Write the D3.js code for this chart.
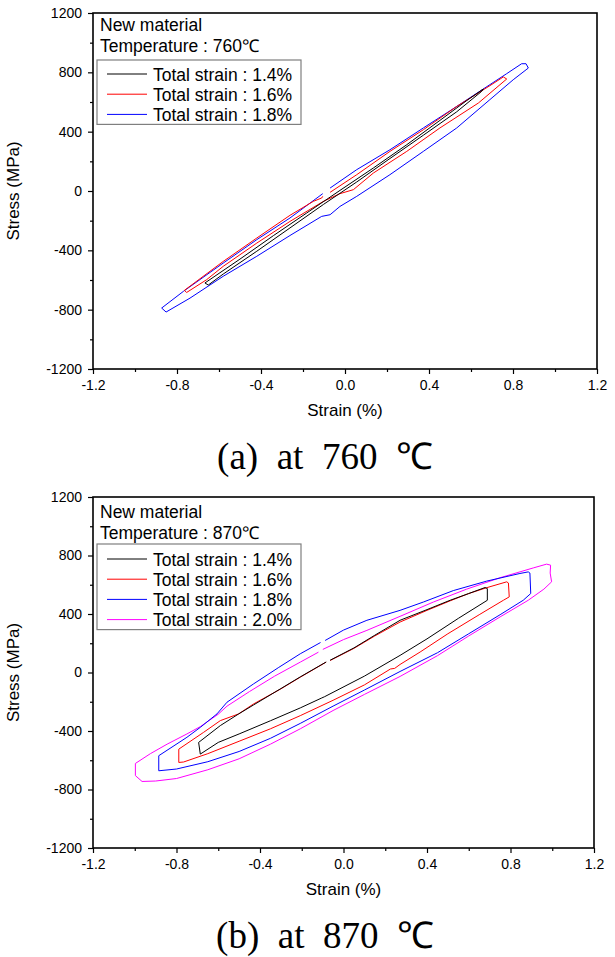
<!DOCTYPE html>
<html>
<head>
<meta charset="utf-8">
<script src="https://cdn.jsdelivr.net/npm/d3@7"></script>
<style>
  body { margin: 0; background: #fff; }
  text { font-family: "Liberation Sans", Arial, sans-serif; fill: #000; }
  .caption { font-family: "Liberation Serif", "Times New Roman", serif; white-space: pre; }
</style>
</head>
<body>
<div id="chart"></div>
<script>
// axis ticks
const xMajor = [-1.2, -0.8, -0.4, 0, 0.4, 0.8, 1.2];
const xMinor = [-1.0, -0.6, -0.2, 0.2, 0.6, 1.0];
const yMajor = [-1200, -800, -400, 0, 400, 800, 1200];
const yMinor = [-1000, -600, -200, 200, 600, 1000];

const labels760 = ["Total strain : 1.4%", "Total strain : 1.6%", "Total strain : 1.8%"];
const labels870 = ["Total strain : 1.4%", "Total strain : 1.6%", "Total strain : 1.8%", "Total strain : 2.0%"];
const lineColors = ["#000000", "#ff0000", "#0000ff", "#ff00ff"];

const loop760_14 = [[-0.667,-620],[-0.500,-459],[-0.341,-301],[-0.182,-148],[-0.024,4],[0.135,155],[0.294,312],[0.452,476],[0.579,609],[0.659,688],[0.651,672],
  [0.532,534],[0.373,376],[0.214,219],[0.056,61],[-0.103,-91],[-0.262,-249],[-0.420,-406],[-0.580,-560],[-0.651,-634],[-0.667,-620]];
const loop760_16 = [[-0.071,-9],[0.056,110],[0.214,267],[0.373,413],[0.532,570],[0.690,710],[0.754,769],[0.770,755],
  [0.635,593],[0.452,425],[0.294,267],[0.135,121],[0.040,9],[-0.024,-18],[-0.103,-70],[-0.262,-205],[-0.420,-351],[-0.580,-508],[-0.659,-598],[-0.754,-684],[-0.765,-670],
  [-0.580,-475],[-0.420,-317],[-0.262,-164],[-0.151,-70],[-0.111,-47],[-0.106,-36]];
const loop760_18 = [[-0.071,20],[0.056,144],[0.214,278],[0.373,425],[0.532,570],[0.690,717],[0.770,791],[0.841,858],[0.862,858],[0.873,829],
  [0.801,750],[0.690,616],[0.532,425],[0.373,267],[0.214,110],[0.056,-36],[-0.024,-104],[-0.071,-160],[-0.111,-171],[-0.262,-300],[-0.420,-440],[-0.580,-575],[-0.738,-722],[-0.852,-816],[-0.873,-789],
  [-0.770,-677],[-0.580,-486],[-0.420,-328],[-0.262,-182],[-0.106,-18]];

// 870 C
const loop870_14 = [[-0.064,84],[0.05,168],[0.15,255],[0.271,357],[0.4,430],[0.511,494],[0.6,540],[0.678,581],[0.689,574],[0.689,494],
  [0.55,370],[0.4,230],[0.271,117],[0.1,-25],[-0.09,-165],[-0.104,-174],[-0.207,-242],[-0.35,-330],[-0.5,-420],[-0.6,-478],[-0.686,-558],[-0.694,-478],
  [-0.590,-363],[-0.502,-283],[-0.431,-222],[-0.3,-110],[-0.207,-30],[-0.083,72]];
const loop870_16 = [[-0.064,82],[0.05,165],[0.15,250],[0.271,345],[0.4,425],[0.511,490],[0.6,540],[0.686,580],[0.782,620],[0.790,612],[0.794,517],
  [0.766,494],[0.65,395],[0.5,265],[0.367,140],[0.271,55],[0.245,28],[0.225,24],[0.1,-85],[-0.05,-190],[-0.207,-295],[-0.35,-385],[-0.5,-470],[-0.65,-555],[-0.766,-612],[-0.789,-615],[-0.789,-524],
  [-0.670,-409],[-0.590,-329],[-0.502,-283],[-0.431,-215],[-0.3,-112],[-0.207,-32],[-0.083,71]];
const loop870_18 = [[-0.088,219],[0.0,290],[0.112,357],[0.271,425],[0.383,482],[0.526,560],[0.686,625],[0.845,677],[0.885,688],[0.893,680],[0.897,540],
  [0.861,494],[0.75,395],[0.6,265],[0.45,135],[0.271,7],[0.1,-120],[-0.05,-230],[-0.207,-348],[-0.35,-450],[-0.5,-540],[-0.65,-610],[-0.8,-660],[-0.885,-672],[-0.885,-569],
  [-0.75,-443],[-0.686,-375],[-0.606,-283],[-0.558,-203],[-0.431,-78],[-0.31,35],[-0.207,128],[-0.11,205]];
const loop870_20 = [[-0.099,158],[0.0,225],[0.112,288],[0.271,384],[0.431,482],[0.59,570],[0.75,648],[0.909,715],[0.973,741],[0.992,734],[0.99,680],[0.997,620],
  [0.96,570],[0.885,494],[0.75,380],[0.6,250],[0.45,115],[0.271,-27],[0.1,-150],[-0.05,-260],[-0.207,-385],[-0.35,-490],[-0.5,-590],[-0.65,-665],[-0.8,-725],[-0.9,-742],[-0.965,-745],[-0.997,-705],[-0.997,-622],
  [-0.925,-555],[-0.845,-490],[-0.75,-420],[-0.686,-370],[-0.6,-285],[-0.558,-230],[-0.45,-130],[-0.33,-25],[-0.207,71],[-0.12,139]];

const svgWidth = 615;
const svgHeight = 957;

const panels = [
  { left: 93, right: 597, top: 13, bottom: 369, temp: "760", caption: "(a)  at  760  \u2103",
    loops: [loop760_14, loop760_16, loop760_18], labels: labels760,
    headerY: [31, 52], legendTop: 60, firstRow: 74 },
  { left: 93, right: 594, top: 497, bottom: 848, temp: "870", caption: "(b)  at  870  \u2103",
    loops: [loop870_14, loop870_16, loop870_18, loop870_20], labels: labels870,
    headerY: [518, 539], legendTop: 544, firstRow: 559 }
];

const svg = d3.select("#chart")
  .append("svg")
    .attr("width", svgWidth)
    .attr("height", svgHeight);

panels.forEach(p => {
  const g = svg.append("g");

  const xScale = d3.scaleLinear().domain([-1.2, 1.2]).range([p.left, p.right]);
  const yScale = d3.scaleLinear().domain([-1200, 1200]).range([p.bottom, p.top]);

  // axes: major with labels, minor without
  const xAxis = d3.axisBottom(xScale).tickValues(xMajor).tickSize(5).tickPadding(6)
    .tickFormat(d => d.toFixed(1));
  const xAxisMinor = d3.axisBottom(xScale).tickValues(xMinor).tickSize(3).tickFormat("");
  const yAxis = d3.axisLeft(yScale).tickValues(yMajor).tickSize(5).tickPadding(6)
    .tickFormat(d => String(d));
  const yAxisMinor = d3.axisLeft(yScale).tickValues(yMinor).tickSize(3).tickFormat("");

  [[xAxis, "x"], [xAxisMinor, "x"], [yAxis, "y"], [yAxisMinor, "y"]].forEach(([ax, k]) => {
    const a = g.append("g")
      .attr("transform", k === "x" ? `translate(0, ${p.bottom})` : `translate(${p.left}, 0)`)
      .call(ax);
    a.select(".domain").remove();
    a.selectAll("line").attr("stroke", "#000").attr("stroke-width", 1.2);
    a.selectAll("text").style("font-size", "14px").attr("fill", "#000");
  });

  // frame
  g.append("rect")
    .attr("x", p.left)
    .attr("y", p.top)
    .attr("width", p.right - p.left)
    .attr("height", p.bottom - p.top)
    .attr("fill", "none")
    .attr("stroke", "#000")
    .attr("stroke-width", 1.6);

  // loops, largest first so the small ones sit on top
  const line = d3.line()
    .x(d => xScale(d[0]))
    .y(d => yScale(d[1]));

  p.loops.slice().reverse().forEach((loop, i) => {
    const idx = p.loops.length - 1 - i;
    g.append("path")
      .datum(loop)
      .attr("d", line)
      .attr("fill", "none")
      .attr("stroke", lineColors[idx])
      .attr("stroke-width", 1)
      .attr("stroke-linejoin", "round");
  });

  // header text
  g.append("text")
    .attr("x", p.left + 7)
    .attr("y", p.headerY[0])
    .style("font-size", "17.5px")
    .text("New material");
  g.append("text")
    .attr("x", p.left + 7)
    .attr("y", p.headerY[1])
    .style("font-size", "17.5px")
    .text(`Temperature : ${p.temp}\u2103`);

  // legend
  const rowStep = 20.2;
  const legend = g.append("g");
  legend.append("rect")
    .attr("x", p.left + 4)
    .attr("y", p.legendTop)
    .attr("width", 204)
    .attr("height", p.firstRow - p.legendTop + rowStep * (p.labels.length - 1) + 10)
    .attr("fill", "#fff")
    .attr("stroke", "#7f7f7f")
    .attr("stroke-width", 1.2);

  p.labels.forEach((lab, i) => {
    const yy = p.firstRow + i * rowStep;
    legend.append("line")
      .attr("x1", p.left + 14)
      .attr("x2", p.left + 54)
      .attr("y1", yy)
      .attr("y2", yy)
      .attr("stroke", lineColors[i])
      .attr("stroke-width", 1);
    legend.append("text")
      .attr("x", p.left + 60)
      .attr("y", yy + 6.5)
      .style("font-size", "17.5px")
      .text(lab);
  });

  // axis titles
  g.append("text")
    .attr("text-anchor", "middle")
    .attr("x", (p.left + p.right) / 2)
    .attr("y", p.bottom + 47)
    .style("font-size", "17px")
    .text("Strain (%)");

  g.append("text")
    .attr("transform", "rotate(-90)")
    .attr("text-anchor", "middle")
    .attr("x", -(p.top + p.bottom) / 2)
    .attr("y", 19)
    .style("font-size", "17px")
    .text("Stress (MPa)");

  // caption under panel
  g.append("text")
    .attr("class", "caption")
    .attr("text-anchor", "middle")
    .attr("x", 325)
    .attr("y", p.bottom + 100)
    .style("font-size", "37px")
    .text(p.caption);
});
</script>
</body>
</html>
